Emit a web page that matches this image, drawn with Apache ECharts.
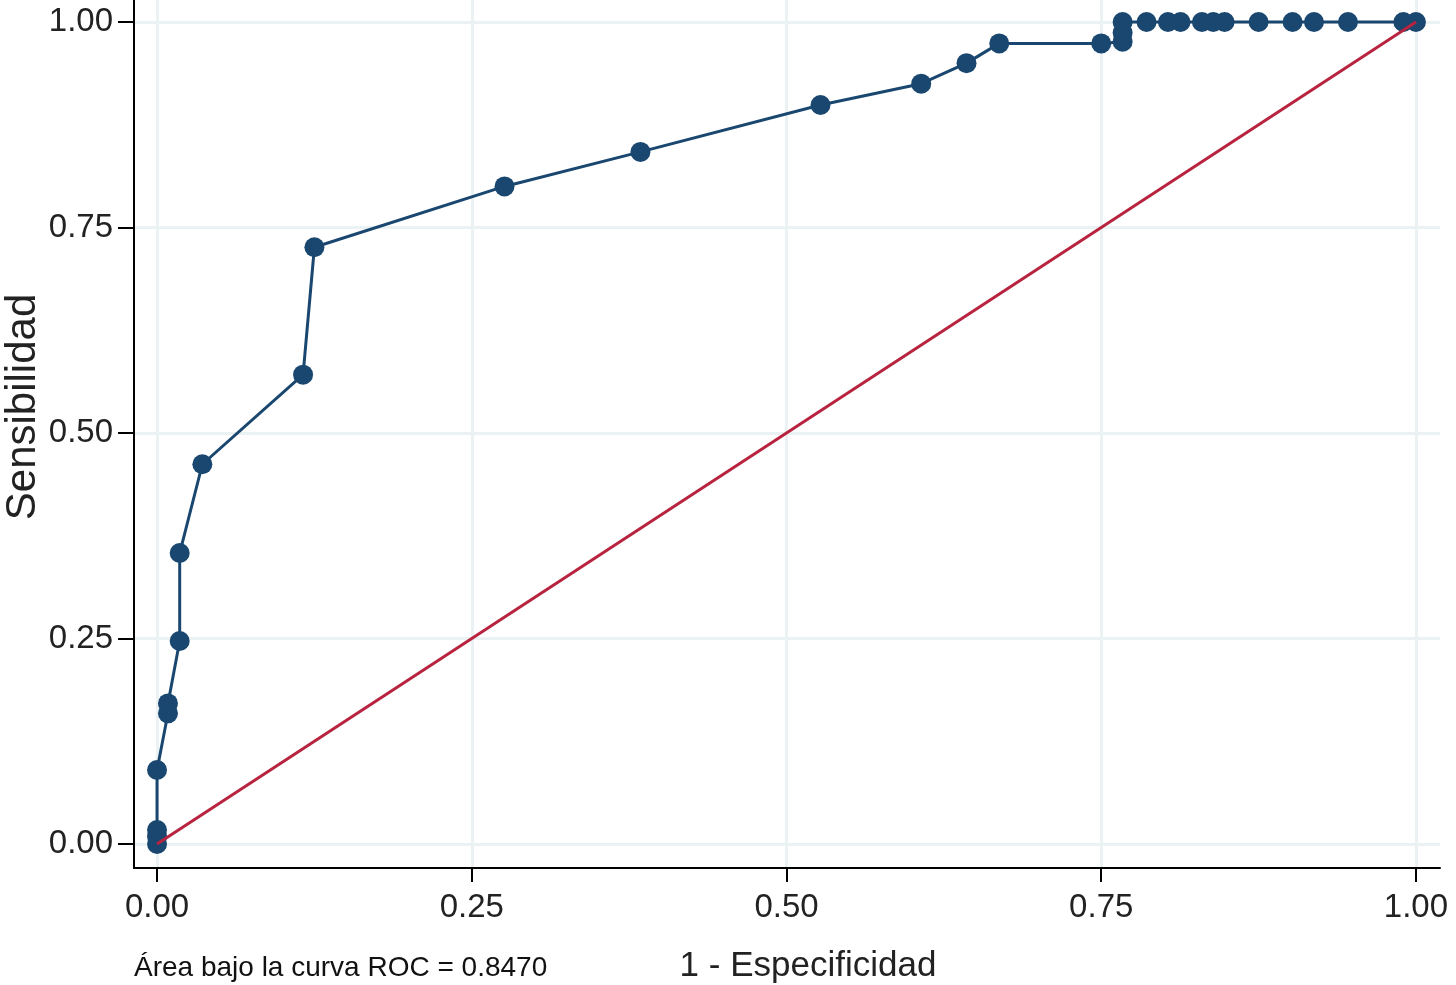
<!DOCTYPE html>
<html>
<head>
<meta charset="utf-8">
<script src="https://cdn.jsdelivr.net/npm/echarts@6/dist/echarts.min.js"></script>
<style>html,body{margin:0;padding:0;background:#fff}#c{width:1456px;height:985px}</style>
</head>
<body>
<div id="c"></div>
<script>
// 1 - Especificidad (x) and Sensibilidad (y) of the ROC curve points
const fpr = [0, 0, 0, 0, 0.0087, 0.0087, 0.018, 0.018, 0.036, 0.116, 0.125, 0.276, 0.384, 0.527, 0.607, 0.643, 0.669, 0.750, 0.767, 0.767, 0.767, 0.786, 0.803, 0.813, 0.830, 0.839, 0.848, 0.875, 0.902, 0.919, 0.946, 0.990, 1.0];
const tpr = [0, 0.009, 0.017, 0.090, 0.159, 0.171, 0.247, 0.354, 0.462, 0.571, 0.726, 0.800, 0.842, 0.899, 0.925, 0.950, 0.974, 0.974, 0.976, 0.987, 1.0, 1.0, 1.0, 1.0, 1.0, 1.0, 1.0, 1.0, 1.0, 1.0, 1.0, 1.0, 1.0];
const refLine = [[0, 0], [1, 1]];
const tickValues = [0, 0.25, 0.5, 0.75, 1];
const xTitle = '1 - Especificidad';
const yTitle = 'Sensibilidad';
const note = 'Área bajo la curva ROC = 0.8470';

const roc = fpr.map((x, i) => [x, tpr[i]]);
const font = 'Liberation Sans, Arial, Helvetica, sans-serif';
const gridColor = '#eaf2f3';

const chart = echarts.init(document.getElementById('c'));
chart.setOption({
  animation: false,
  backgroundColor: '#ffffff',
  grid: { left: 134, right: 16, top: 0, bottom: 117, containLabel: false },
  xAxis: {
    type: 'value', min: -0.0183, max: 1.0191,
    axisLine: { show: true, onZero: false, lineStyle: { color: '#000', width: 2 } },
    axisTick: { show: true, length: 14, customValues: tickValues, lineStyle: { color: '#000', width: 2 } },
    axisLabel: { customValues: tickValues, formatter: v => v.toFixed(2), fontSize: 33, color: '#222', fontFamily: font, margin: 23 },
    splitLine: { show: true, lineStyle: { color: gridColor, width: 3 } }
  },
  yAxis: {
    type: 'value', min: -0.0292, max: 1.0268,
    axisLine: { show: true, onZero: false, lineStyle: { color: '#000', width: 2 } },
    axisTick: { show: true, length: 16, customValues: tickValues, lineStyle: { color: '#000', width: 2 } },
    axisLabel: { customValues: tickValues, formatter: v => v.toFixed(2), fontSize: 33, color: '#222', fontFamily: font, margin: 21 },
    splitLine: { show: true, lineStyle: { color: gridColor, width: 3 } }
  },
  series: [
    {
      type: 'line', data: roc, symbol: 'circle', symbolSize: 20,
      lineStyle: { color: '#1a476f', width: 3 },
      itemStyle: { color: '#1a476f' }, z: 3
    },
    {
      type: 'line', data: refLine, symbol: 'none',
      lineStyle: { color: '#b8243f', width: 3 }, z: 4
    }
  ],
  graphic: [
    { type: 'text', x: 808, y: 966, style: { text: xTitle, fontSize: 35, fill: '#222', fontFamily: font, align: 'center', verticalAlign: 'middle' } },
    { type: 'text', x: 23, y: 407, rotation: Math.PI / 2, style: { text: yTitle, fontSize: 42, fill: '#222', fontFamily: font, align: 'center', verticalAlign: 'middle' } },
    { type: 'text', x: 134, y: 968, style: { text: note, fontSize: 28, fill: '#111', fontFamily: font, align: 'left', verticalAlign: 'middle' } }
  ]
});
</script>
</body>
</html>
